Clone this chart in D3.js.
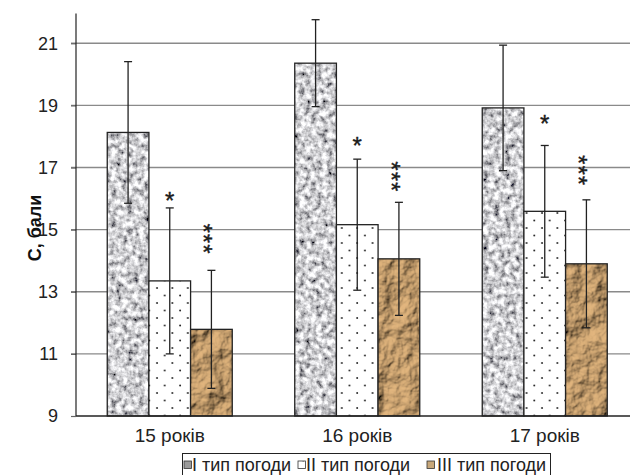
<!DOCTYPE html>
<html><head><meta charset="utf-8">
<script src="https://cdn.jsdelivr.net/npm/d3@7"></script>
<style>body{margin:0;background:#fff}svg{display:block;font-family:"Liberation Sans",Arial,sans-serif}</style>
</head><body><svg id="c" width="630" height="475"></svg>
<script>
const categories = ["15 років", "16 років", "17 років"];
const seriesNames = ["I тип погоди", "II тип погоди", "III тип погоди"];
const typeI   = [18.13, 20.36, 18.92];
const typeII  = [13.35, 15.16, 15.59];
const typeIII = [11.79, 14.06, 13.90];
const errI    = [2.28, 1.40, 2.02];
const errII   = [2.35, 2.11, 2.12];
const errIII  = [1.90, 1.82, 2.06];
const marks   = ["", "*", "***"];
const markII  = [16.1, 17.9, 18.6];
const markIII = [14.7, 16.7, 16.9];
const yTicks  = [9, 11, 13, 15, 17, 19, 21];

const values = [typeI, typeII, typeIII];
const errs = [errI, errII, errIII];
const markPos = [null, markII, markIII];

const svg = d3.select("#c");
const defs = svg.append("defs");

// granite texture
const fI = defs.append("filter").attr("id","granite").attr("x","0").attr("y","0").attr("width","1").attr("height","1");
fI.append("feTurbulence").attr("type","fractalNoise").attr("baseFrequency","0.18").attr("numOctaves","3").attr("seed","3").attr("result","n");
fI.append("feColorMatrix").attr("in","n").attr("type","matrix")
  .attr("values","1.8 0 0 0 -0.27  1.8 0 0 0 -0.27  1.8 0 0 0 -0.25  0 0 0 0 1").attr("result","g");
fI.append("feComposite").attr("in","g").attr("in2","SourceGraphic").attr("operator","in");

// crumpled paper texture
const fIII = defs.append("filter").attr("id","paper").attr("x","0").attr("y","0").attr("width","1").attr("height","1");
fIII.append("feTurbulence").attr("type","fractalNoise").attr("baseFrequency","0.045").attr("numOctaves","5").attr("seed","7").attr("result","n");
const lt = fIII.append("feDiffuseLighting").attr("in","n").attr("surfaceScale","7").attr("diffuseConstant","1.15").attr("lighting-color","#d4aa76").attr("result","l");
lt.append("feDistantLight").attr("azimuth","225").attr("elevation","45");
fIII.append("feComposite").attr("in","l").attr("in2","SourceGraphic").attr("operator","in");

// dotted pattern
const pd = defs.append("pattern").attr("id","dots").attr("patternUnits","userSpaceOnUse").attr("width",15.4).attr("height",15);
pd.append("rect").attr("width",15.4).attr("height",15).attr("fill","#fff");
pd.append("circle").attr("cx",3).attr("cy",3).attr("r",0.95).attr("fill","#222");
pd.append("circle").attr("cx",10.7).attr("cy",10.5).attr("r",0.95).attr("fill","#222");

function fillBar(sel, i) {
  if (i === 0) sel.attr("fill","#aaa").attr("filter","url(#granite)");
  else if (i === 1) sel.attr("fill","url(#dots)");
  else sel.attr("fill","#b89a70").attr("filter","url(#paper)");
}

const x0 = d3.scaleBand().domain(categories).range([76, 638.5]).paddingInner(1/3).paddingOuter(1/6);
const x1 = d3.scaleBand().domain([0,1,2]).range([0, x0.bandwidth()]).padding(0);
const y = d3.scaleLinear().domain([9, 21]).range([416, 43.3]);
const FONT = "Liberation Sans, Arial, sans-serif";

// gridlines
svg.append("g").selectAll("line").data(yTicks.filter(t => t > 9)).join("line")
  .attr("x1", 71).attr("x2", 630).attr("y1", d => y(d)).attr("y2", d => y(d))
  .attr("stroke", "#8a8a8a").attr("stroke-width", 1.4);

// y axis
const yAxis = d3.axisLeft(y).tickValues(yTicks).tickSize(5).tickPadding(13).tickFormat(d3.format("d"));
const gy = svg.append("g").attr("transform","translate(76,0)").call(yAxis);
gy.select(".domain").remove();
gy.selectAll(".tick line").attr("stroke","#666").attr("stroke-width",1.2);
gy.selectAll(".tick text").attr("font-size","18px").attr("fill","#222").attr("font-family",FONT);
svg.append("line").attr("x1",76).attr("x2",76).attr("y1",y(21.96)).attr("y2",416).attr("stroke","#222").attr("stroke-width",1.2);

// x axis
const xAxis = d3.axisBottom(x0).tickSize(0).tickPadding(13);
const gx = svg.append("g").attr("transform","translate(0,416)").call(xAxis);
gx.select(".domain").remove();
gx.selectAll(".tick text").attr("font-size","19px").attr("fill","#222").attr("font-family",FONT);

// bars
categories.forEach((c, ci) => {
  values.forEach((vals, si) => {
    const bx = x0(c) + x1(si), bw = x1.bandwidth();
    const r = svg.append("rect").attr("x", bx).attr("y", y(vals[ci])).attr("width", bw).attr("height", y(9) - y(vals[ci]));
    fillBar(r, si);
    svg.append("rect").attr("x", bx).attr("y", y(vals[ci])).attr("width", bw).attr("height", y(9) - y(vals[ci]))
      .attr("fill","none").attr("stroke","#222").attr("stroke-width",1.3);
  });
});
svg.append("line").attr("x1",76).attr("x2",630).attr("y1",416).attr("y2",416).attr("stroke","#222").attr("stroke-width",1.3);

// error bars & marks
categories.forEach((c, ci) => {
  values.forEach((vals, si) => {
    const cx = x0(c) + x1(si) + x1.bandwidth()/2;
    const hi = y(vals[ci] + errs[si][ci]), lo = y(vals[ci] - errs[si][ci]);
    const g = svg.append("g").attr("stroke","#222").attr("stroke-width",1.3);
    g.append("line").attr("x1",cx).attr("x2",cx).attr("y1",hi).attr("y2",lo);
    g.append("line").attr("x1",cx-4).attr("x2",cx+4).attr("y1",hi).attr("y2",hi);
    g.append("line").attr("x1",cx-4).attr("x2",cx+4).attr("y1",lo).attr("y2",lo);
    if (marks[si]) {
      const my = y(markPos[si][ci]);
      const t = svg.append("text").attr("text-anchor","middle")
        .attr("font-size","24px").attr("fill","#1a1a1a").attr("font-family",FONT)
        .attr("stroke","#1a1a1a").attr("stroke-width",0.4).text(marks[si]);
      if (marks[si].length > 1) {
        t.attr("transform", `translate(${cx - 2},${my}) rotate(90)`).attr("dy","0.58em").attr("letter-spacing","1px");
      } else {
        t.attr("transform", `translate(${cx},${my})`).attr("dy","0.58em");
      }
    }
  });
});

// y title
svg.append("text").attr("transform","translate(41,228) rotate(-90)").attr("text-anchor","middle")
  .attr("font-size","18px").attr("font-weight","bold").attr("fill","#111").attr("font-family",FONT).text("С, бали");

// legend
const lg = svg.append("g");
lg.append("rect").attr("x",182.5).attr("y",453.5).attr("width",368).attr("height",23).attr("fill","#fff").attr("stroke","#222").attr("stroke-width",1);
const legX = [184, 298, 427];
seriesNames.forEach((n, i) => {
  const sw = lg.append("rect").attr("x",legX[i]).attr("y",461).attr("width",7.5).attr("height",7.5);
  fillBar(sw, i);
  if (i === 0) sw.attr("filter", null).attr("fill","#9a9a9a");
  if (i === 2) sw.attr("filter", null).attr("fill","#c7a77a");
  lg.append("rect").attr("x",legX[i]).attr("y",461).attr("width",7.5).attr("height",7.5).attr("fill","none").attr("stroke","#333").attr("stroke-width",0.8);
  lg.append("text").attr("x",legX[i]+ (i === 2 ? 10 : 8)).attr("y",470.5).attr("font-size","18px").attr("fill","#222").attr("font-family",FONT).text(n);
});
</script></body></html>
